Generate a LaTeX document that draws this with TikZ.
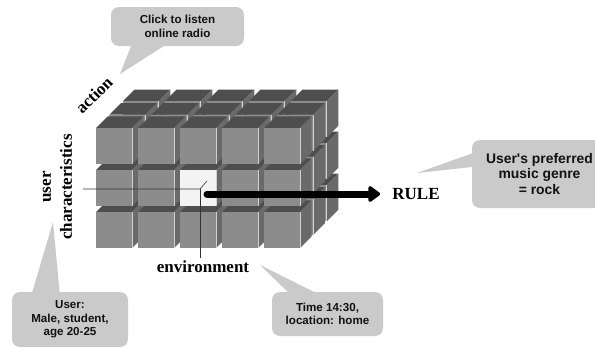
\documentclass[tikz,border=0pt]{standalone}
\usepackage{fontspec}
\setmainfont{Liberation Serif}
\newfontfamily\calloutfont{Liberation Sans}
\usetikzlibrary{arrows.meta,calc}

\definecolor{cubefront}{HTML}{8C8C8C}
\definecolor{cubetop}{HTML}{4E4E4E}
\definecolor{cubeside}{HTML}{6A6A6A}
\definecolor{cubeedge}{HTML}{D0D0D0}
\definecolor{cellhi}{HTML}{F3F3F3}
\definecolor{calloutfill}{HTML}{CACACA}

\tikzset{
  axis label/.style={font=\bfseries\fontsize{17}{21}\selectfont, inner sep=0pt, text=black},
  callout box/.style={fill=calloutfill, rounded corners=8pt, inner sep=0pt, align=center,
    text=black!93},
  callout small/.style={callout box, font=\calloutfont\bfseries\fontsize{11.6}{13.6}\selectfont},
  callout large/.style={callout box, font=\calloutfont\bfseries\fontsize{13.9}{15.8}\selectfont},
  axis line/.style={draw=black!80, line width=0.6pt},
  rule arrow/.style={line width=7pt, line cap=round,
    -{Triangle[length=13pt,width=18pt,round]}},
}

\begin{document}
\begin{tikzpicture}[x=1pt,y=-1pt,z={(0.32pt,0.32pt)}]
  \useasboundingbox (0,0) rectangle (595,348);
  \fill[white] (0,0) rectangle (595,348);
  \clip (0,0) rectangle (595,348);

  % block of 5 x 3 x 3 cubes, drawn back to front
  \foreach \k in {2,1,0}{
    \foreach \j in {2,1,0}{
      \foreach \i in {0,...,4}{
        \pgfmathsetmacro\cx{96+42*\i}
        \pgfmathsetmacro\cy{128+42*\j}
        \pgfmathsetmacro\cz{42*\k}
        \ifnum\k=0 \ifnum\j=1 \ifnum\i=2
          \def\frontcol{cellhi}\else\def\frontcol{cubefront}\fi
          \else\def\frontcol{cubefront}\fi
        \else\def\frontcol{cubefront}\fi
        % top face
        \fill[cubetop] (\cx,\cy,\cz) -- (\cx+36,\cy,\cz) -- (\cx+36,\cy,\cz+36) -- (\cx,\cy,\cz+36) -- cycle;
        % right face
        \fill[cubeside] (\cx+36,\cy,\cz) -- (\cx+36,\cy+36,\cz) -- (\cx+36,\cy+36,\cz+36) -- (\cx+36,\cy,\cz+36) -- cycle;
        % front face
        \fill[\frontcol] (\cx,\cy,\cz) -- (\cx+36,\cy,\cz) -- (\cx+36,\cy+36,\cz) -- (\cx,\cy+36,\cz) -- cycle;
        % light front-right edge
        \draw[cubeedge, line width=0.8pt] (\cx+36,\cy,\cz) -- (\cx+36,\cy+36,\cz);
      }
    }
  }

  % axes through the selected cell
  \coordinate (cellcentre) at (200,189);
  \coordinate (userend) at (83,189);
  \coordinate (actionend) at (207,181);
  \coordinate (envend) at (200,258);
  \draw[axis line] (userend) -- (cellcentre) -- (actionend);
  \draw[axis line] (cellcentre) -- (envend);

  % axis labels
  \node[axis label, rotate=45] (action) at (94,95) {action};
  \node[axis label, rotate=90, align=center] (userchar) at (57.5,187) {user\\characteristics};
  \node[axis label] (environment) at (203,267) {environment};
  \node[axis label] (rule) at (416,194) {RULE};

  % arrow from the cell to the rule
  \coordinate (arrowstart) at (207,194);
  \draw[rule arrow] (arrowstart) -- ([xshift=-12pt]rule.west);

  % callouts
  \node[callout small, minimum width=133pt, minimum height=39pt] (radio) at (177.5,26.5)
    {Click to listen\\online radio};
  \coordinate (radiotip) at (120,74);
  \fill[calloutfill] ($(radio.south west)+(21,-2)$) -- (radiotip) -- ($(radio.south west)+(56,-2)$) -- cycle;

  \node[callout large, minimum width=135pt, minimum height=68pt] (genre) at (539.5,174)
    {User's preferred\\music genre\\= rock};
  \coordinate (genretip) at (417,173);
  \fill[calloutfill] ($(genre.north west)+(2,13)$) -- (genretip) -- ($(genre.north west)+(2,27)$) -- cycle;

  \node[callout small, minimum width=111pt, minimum height=44pt] (context) at (327.5,314)
    {Time 14:30,\\location: home};
  \coordinate (contexttip) at (260,265);
  \fill[calloutfill] ($(context.north west)+(18,2)$) -- (contexttip) -- ($(context.north west)+(46,2)$) -- cycle;

  \node[callout small, minimum width=116pt, minimum height=55pt] (user) at (70,319.5)
    {User:\\Male, student,\\age 20-25};
  \coordinate (usertip) at (53,222);
  \fill[calloutfill] ($(user.north west)+(20,2)$) -- (usertip) -- ($(user.north west)+(48,2)$) -- cycle;
\end{tikzpicture}
\end{document}
